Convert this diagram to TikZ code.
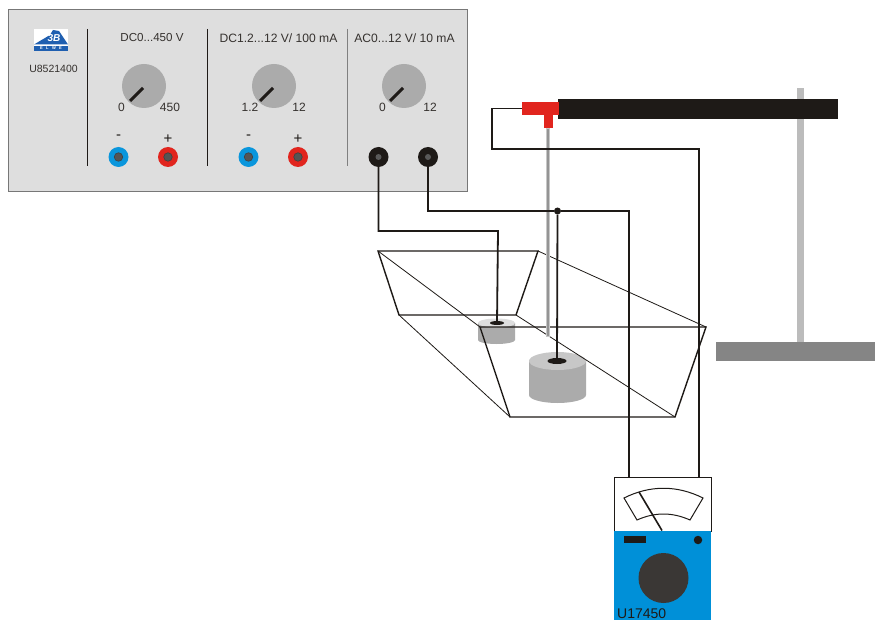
\documentclass[tikz,border=0pt]{standalone}
\usepackage{fontspec}
\usetikzlibrary{shapes.geometric}
\setmainfont{Liberation Sans}
\definecolor{panelbg}{HTML}{DEDEDE}
\definecolor{panelln}{HTML}{777777}
\definecolor{knobc}{HTML}{ABABAB}
\definecolor{jblue}{HTML}{0A96DC}
\definecolor{jred}{HTML}{E1251E}
\definecolor{jcore}{HTML}{555555}
\definecolor{ink}{HTML}{1E1A17}
\definecolor{meterblue}{HTML}{0090D8}
\definecolor{dial}{HTML}{3A3735}
\definecolor{logoblue}{HTML}{1F5FB0}
\tikzset{
 wire/.style={draw=ink,line width=1.8pt,line join=miter},
 trap/.style={draw=ink,line width=1.4pt,line join=miter},
 thinl/.style={draw=ink,line width=0.8pt},
 knobn/.style={circle,fill=knobc,minimum size=44pt,inner sep=0pt},
 pointer/.style={draw=ink,line width=3pt},
 jack/.style={circle,minimum size=20pt,inner sep=0pt,fill=#1},
 core/.style={circle,minimum size=8.5pt,inner sep=0pt,fill=jcore,draw=black!75,line width=0.6pt},
 lbl/.style={inner sep=0pt,font=\fontsize{12}{13}\selectfont,text=ink!90},
 signl/.style={inner sep=0pt,font=\fontsize{15}{15}\selectfont,text=ink},
 divider/.style={draw=#1,line width=1pt},
 dotn/.style={circle,fill=ink,minimum size=7pt,inner sep=0pt},
}
\begin{document}
\begin{tikzpicture}[x=1pt,y=-1pt]
\useasboundingbox (0,0) rectangle (875,620);
\fill[white] (0,0) rectangle (875,620);
% stand
\node[fill=knobc!80!white,minimum width=7pt,minimum height=254pt,inner sep=0pt] (rod) at (800.5,215) {};
\node[fill=black!48,minimum width=159pt,minimum height=19.5pt,inner sep=0pt] (standbase) at (795.5,351.5) {};
% panel
\node[fill=panelbg,draw=panelln,line width=1pt,minimum width=459pt,minimum height=182pt,inner sep=0pt] (panel) at (237.5,101) {};
\draw[divider=ink] (87,29) -- (87,166);
\draw[divider=ink] (207,29) -- (207,166);
\draw[divider=black!50] (347,29) -- (347,166);
% logo
\fill[white] (34,29) rectangle (68,51);
\fill[logoblue] (34,44.5) -- (50,35) -- (53,30) -- (59,31) -- (68,44.5) -- cycle;
\fill[logoblue] (34,46) rectangle (68,51);
\node[inner sep=0pt,text=white,font=\bfseries\itshape\fontsize{10}{10}\selectfont] (logo3b) at (54,38) {3B};
\node[inner sep=0pt,text=white,font=\bfseries\fontsize{4}{4}\selectfont] (logoelwe) at (51,48.5) {E\hspace{3.4pt}L\hspace{3.4pt}W\hspace{3.4pt}E};
\node[lbl,font=\fontsize{10.5}{12}\selectfont] (model) at (53.5,69) {U8521400};
% titles
\node[lbl,font=\fontsize{11.6}{13}\selectfont] (t1) at (152,38) {DC0...450 V};
\node[lbl,font=\fontsize{12.1}{13}\selectfont] (t2) at (278.5,38) {DC1.2...12 V/ 100 mA};
\node[lbl,font=\fontsize{12.1}{13}\selectfont] (t3) at (404.5,38) {AC0...12 V/ 10 mA};
% knobs
\node[knobn] (k1) at (144,86) {};
\node[knobn] (k2) at (274,86) {};
\node[knobn] (k3) at (404,86) {};
\foreach \k in {k1,k2,k3} \draw[pointer] ([shift={(-14,15)}]\k.center) -- ([shift={(-1,2)}]\k.center);
\node[lbl] (k1a) at (121.5,107) {0};
\node[lbl] (k1b) at (170,107) {450};
\node[lbl] (k2a) at (250,107) {1.2};
\node[lbl] (k2b) at (299,107) {12};
\node[lbl] (k3a) at (382.5,107) {0};
\node[lbl] (k3b) at (430,107) {12};
\node[signl] (s1) at (118.5,137) {-};
\node[signl] (s2) at (168,139) {+};
\node[signl] (s3) at (248.5,137) {-};
\node[signl] (s4) at (298,139) {+};
% jacks
\node[jack=jblue] (j1) at (118.5,157) {};
\node[jack=jred] (j2) at (168,157) {};
\node[jack=jblue] (j3) at (248.5,157) {};
\node[jack=jred] (j4) at (298,157) {};
\node[jack=ink] (j5) at (378.5,157) {};
\node[jack=ink] (j6) at (428,157) {};
\foreach \j in {j1,j2,j3,j4} \node[core] at (\j) {};
\foreach \j in {j5,j6} \node[circle,minimum size=6pt,inner sep=0pt,fill=black!65] at (\j) {};
% small cylinder
\fill[knobc] (478,323) -- (478,340) arc[start angle=180,end angle=0,x radius=18.5,y radius=4] -- (515,323) -- cycle;
\fill[panelbg] (496.5,323) ellipse[x radius=18.5,y radius=4.5];
\node[ellipse,fill=ink,minimum width=14pt,minimum height=4pt,inner sep=0pt] (h1) at (497,323) {};
% big cylinder
\fill[knobc] (529,361) -- (529,395) arc[start angle=180,end angle=0,x radius=28.5,y radius=8] -- (586,361) -- cycle;
\fill[black!22] (557.5,361) ellipse[x radius=28.5,y radius=9];
\node[ellipse,fill=ink,minimum width=19pt,minimum height=6pt,inner sep=0pt] (h2) at (557,361) {};
% tub
\coordinate (a1) at (378,251);\coordinate (a2) at (538,251);\coordinate (a3) at (516,315);\coordinate (a4) at (399,315);
\coordinate (b1) at (480,327);\coordinate (b2) at (706,327);\coordinate (b3) at (675,417);\coordinate (b4) at (510,417);
\draw[trap] (a1) -- (a2) -- (a3) -- (a4) -- cycle;
\draw[trap] (b1) -- (b2) -- (b3) -- (b4) -- cycle;
\draw[thinl] (a1) -- (b1) (a2) -- (b2) (a3) -- (b3) (a4) -- (b4);
% probe rod
\node[fill=black!42,draw=black!22,line width=0.7pt,minimum width=3.5pt,minimum height=208pt,inner sep=0pt] (probe) at (548,232) {};
% bar and T
\node[fill=ink,minimum width=280pt,minimum height=20pt,inner sep=0pt] (bar) at (698,109) {};
\node[fill=jred,minimum width=9.5pt,minimum height=14pt,inner sep=0pt] (tstem) at (548.5,121) {};
\node[fill=jred,minimum width=37pt,minimum height=13pt,inner sep=0pt] (thead) at (540.5,108.5) {};
% meter
\node[fill=white,draw=ink,line width=0.8pt,minimum width=97pt,minimum height=54pt,inner sep=0pt] (mbox) at (662.5,504) {};
\node[fill=meterblue,minimum width=97pt,minimum height=89pt,inner sep=0pt] (mblue) at (662.5,575.5) {};
\draw[ink,line width=1pt] (624,498) .. controls (650,485) and (677,485) .. (703,498) -- (690,520) .. controls (672,512) and (655,512) .. (637,520) -- cycle;
\draw[ink,line width=1.6pt] (639,492) -- (662,530.5);
\node[fill=ink,minimum width=22pt,minimum height=7pt,inner sep=0pt] (mrect) at (635,539.5) {};
\node[circle,fill=ink,minimum size=8.5pt,inner sep=0pt] (mdot) at (698,540) {};
\node[circle,fill=dial,minimum size=50pt,inner sep=0pt] (mdial) at (663.5,578) {};
\node[anchor=base west,inner sep=0pt,text=ink,font=\fontsize{14}{14}\selectfont] (mlabel) at (617,618) {U17450};
% wires
\coordinate (m1) at (629,477);\coordinate (m2) at (699,477);
\node[dotn] (junc) at (557.5,211) {};
\draw[wire] (j5) -- (378.5,231) -- (498,231) -- (h1);
\draw[wire] (j6) -- (428,211) -- (junc) -- (629,211) -- (m1);
\draw[wire] (junc) -- (h2);
\draw[wire] (thead.west) -- (492,108.5) -- (492,149) -- (699,149) -- (m2);
\end{tikzpicture}
\end{document}
